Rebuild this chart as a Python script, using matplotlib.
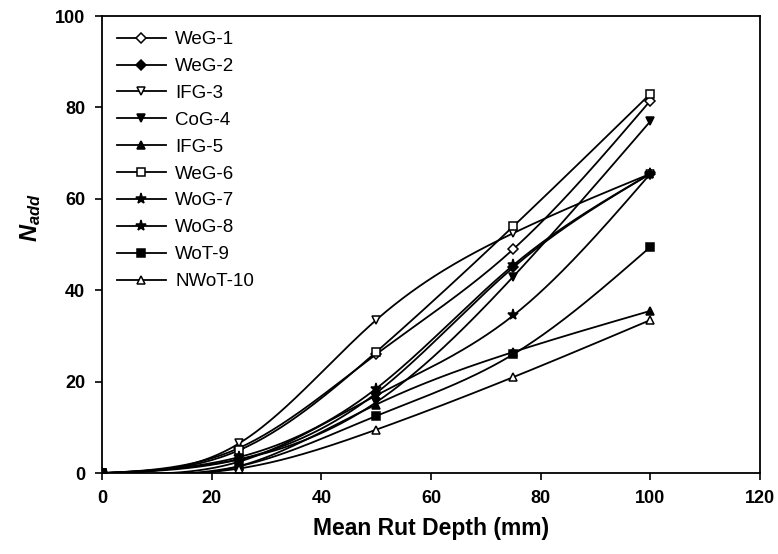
import numpy as np
import matplotlib
matplotlib.use('Agg')
import matplotlib.pyplot as plt

plt.rcParams['font.family'] = 'Liberation Sans'
plt.rcParams['mathtext.fontset'] = 'custom'
plt.rcParams['mathtext.it'] = 'Liberation Sans:bold:italic'
plt.rcParams['mathtext.rm'] = 'Liberation Sans:bold'

# Data
rut_depth = [0, 25, 50, 75, 100]
names = ['WeG-1', 'WeG-2', 'IFG-3', 'CoG-4', 'IFG-5',
         'WeG-6', 'WoG-7', 'WoG-8', 'WoT-9', 'NWoT-10']
weg1 = [0, 5.5, 26, 49, 81.5]
weg2 = [0, 3, 17.5, 45, 65.5]
ifg3 = [0, 6.5, 33.5, 52.5, 65.5]
cog4 = [0, 3, 15.5, 43, 77]
ifg5 = [0, 1.5, 15, 26.5, 35.5]
weg6 = [0, 5, 26.5, 54, 83]
wog7 = [0, 2.5, 17, 34.5, 65.5]
wog8 = [0, 3.5, 18.5, 45.5, 65.5]
wot9 = [0, 1.5, 12.5, 26, 49.5]
nwot10 = [0, 1, 9.5, 21, 33.5]
series = [weg1, weg2, ifg3, cog4, ifg5, weg6, wog7, wog8, wot9, nwot10]

# marker, filled?
markers = [('D', False), ('D', True), ('v', False), ('v', True), ('^', True),
           ('s', False), ('*', True), ('*', True), ('s', True), ('^', False)]


def natural_spline(x, y, n=200):
    # natural cubic spline through the points, only for smooth drawing
    x = np.asarray(x, float)
    y = np.asarray(y, float)
    k = len(x)
    h = np.diff(x)
    A = np.zeros((k, k))
    b = np.zeros(k)
    A[0, 0] = A[-1, -1] = 1
    for i in range(1, k - 1):
        A[i, i - 1] = h[i - 1]
        A[i, i] = 2 * (h[i - 1] + h[i])
        A[i, i + 1] = h[i]
        b[i] = 6 * ((y[i + 1] - y[i]) / h[i] - (y[i] - y[i - 1]) / h[i - 1])
    M = np.linalg.solve(A, b)
    xs = np.linspace(x[0], x[-1], n)
    ys = np.empty_like(xs)
    for j, t in enumerate(xs):
        i = min(np.searchsorted(x, t, side='right') - 1, k - 2)
        a, c = x[i], x[i + 1]
        ys[j] = (M[i] * (c - t) ** 3 / (6 * h[i]) + M[i + 1] * (t - a) ** 3 / (6 * h[i])
                 + (y[i] / h[i] - M[i] * h[i] / 6) * (c - t)
                 + (y[i + 1] / h[i] - M[i + 1] * h[i] / 6) * (t - a))
    return xs, ys


fig = plt.figure(figsize=(7.78, 5.54), dpi=100)
ax = fig.add_axes([0.131, 0.146, 0.846, 0.825])

for name, vals, (m, filled) in zip(names, series, markers):
    xs, ys = natural_spline(rut_depth, vals)
    ax.plot(xs, ys, color='black', lw=1.3)
    ms = 8 if m == '*' else 5.5
    ax.plot(rut_depth, vals, linestyle='none', marker=m, ms=ms, mec='black',
            mew=1.1, mfc='black' if filled else 'white')
    # legend proxy
    ax.plot([], [], color='black', lw=1.3, marker=m, ms=ms, mec='black', mew=1.1,
            mfc='black' if filled else 'white', label=name)

ax.set_xlim(0, 120)
ax.set_ylim(0, 100)
ax.set_xticks(range(0, 121, 20))
ax.set_yticks(range(0, 101, 20))
ax.tick_params(direction='out', length=5, width=1.2, labelsize=13, pad=7)
for lab in ax.get_xticklabels() + ax.get_yticklabels():
    lab.set_fontweight('bold')
for sp in ax.spines.values():
    sp.set_linewidth(1.3)

ax.set_xlabel('Mean Rut Depth (mm)', fontsize=16.5, fontweight='bold')
ax.xaxis.set_label_coords(0.5, -0.095)
ax.set_ylabel('$N_{add}$', fontsize=17)
ax.yaxis.set_label_coords(-0.09, 0.56)

ax.legend(loc='upper left', frameon=False, fontsize=13.5, handlelength=2.6,
          labelspacing=0.52, borderaxespad=0.4, handletextpad=0.5)

fig.savefig('out.png', dpi=100)
